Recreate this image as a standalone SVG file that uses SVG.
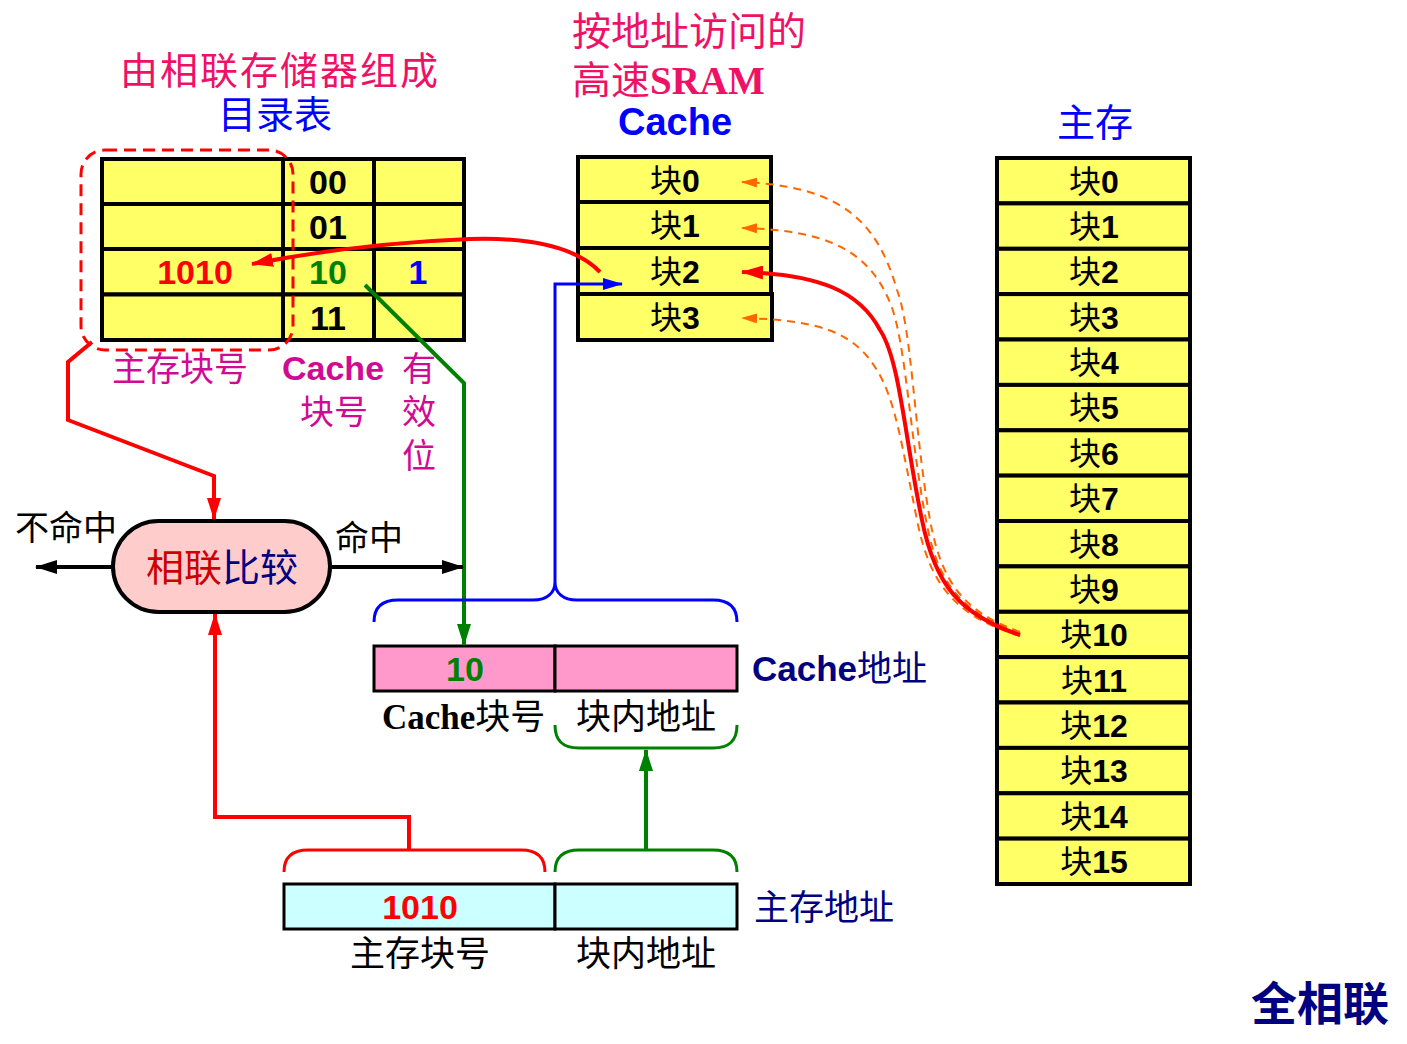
<svg xmlns="http://www.w3.org/2000/svg" width="1407" height="1044" viewBox="0 0 1407 1044">
<defs>
<style>
.cjk{font-family:"Noto Sans CJK SC","Noto Sans CJK TC",sans-serif;}
.b{font-family:"Liberation Sans",Arial,sans-serif;font-weight:bold;}
.sb{font-family:"Liberation Serif","Times New Roman",serif;font-weight:bold;}
.cell{fill:#FFFF66;stroke:#000;stroke-width:4;}
.blk{font-size:32px;text-anchor:middle;fill:#000;}
.dig{font-size:34px;text-anchor:middle;}
.lbl{fill:#D10A94;font-size:34px;}
.navy{fill:#000080;}
.ln{fill:none;stroke-width:4;}
.brace{fill:none;stroke-width:3;}
.odash{fill:none;stroke:#FF6600;stroke-width:2;stroke-dasharray:8 6;}
</style>
<marker id="aR" viewBox="0 0 22 14" refX="21" refY="7" markerWidth="22" markerHeight="14" orient="auto" markerUnits="userSpaceOnUse"><path d="M0,0 L22,7 L0,14 z" fill="#FF0000"/></marker>
<marker id="aK" viewBox="0 0 22 14" refX="21" refY="7" markerWidth="22" markerHeight="14" orient="auto" markerUnits="userSpaceOnUse"><path d="M0,0 L22,7 L0,14 z" fill="#000"/></marker>
<marker id="aG" viewBox="0 0 22 14" refX="21" refY="7" markerWidth="22" markerHeight="14" orient="auto" markerUnits="userSpaceOnUse"><path d="M0,0 L22,7 L0,14 z" fill="#008000"/></marker>
<marker id="aB" viewBox="0 0 20 12" refX="19" refY="6" markerWidth="20" markerHeight="12" orient="auto" markerUnits="userSpaceOnUse"><path d="M0,0 L20,6 L0,12 z" fill="#0000FF"/></marker>
<marker id="aO" viewBox="0 0 16 10" refX="15" refY="5" markerWidth="16" markerHeight="10" orient="auto" markerUnits="userSpaceOnUse"><path d="M0,0 L16,5 L0,10 z" fill="#FF6600"/></marker>
</defs>
<rect width="1407" height="1044" fill="#FFFFFF"/>

<g id="titles">
<text class="cjk" x="120" y="84" font-size="38" letter-spacing="2" fill="#EE1166">由相联存储器组成</text>
<text class="cjk" x="218" y="128" font-size="38" fill="#0000FF">目录表</text>
<text class="cjk" x="572" y="45" font-size="39" fill="#EE1166">按地址访问的</text>
<text x="572" y="94" font-size="39" fill="#EE1166"><tspan class="cjk">高速</tspan><tspan class="sb">SRAM</tspan></text>
<text class="b" x="675" y="135" font-size="38" fill="#0000FF" text-anchor="middle">Cache</text>
<text class="cjk" x="1095" y="136" font-size="38" fill="#0000FF" text-anchor="middle">主存</text>
<text class="cjk navy" x="1320" y="1020" font-size="46" text-anchor="middle" font-weight="bold">全相联</text>
</g>

<g id="directory">
<rect class="cell" x="102" y="159" width="181" height="45"/>
<rect class="cell" x="102" y="204" width="181" height="45"/>
<rect class="cell" x="102" y="249" width="181" height="45.5"/>
<rect class="cell" x="102" y="294.5" width="181" height="45.5"/>
<rect class="cell" x="283" y="159" width="91" height="45"/>
<rect class="cell" x="283" y="204" width="91" height="45"/>
<rect class="cell" x="283" y="249" width="91" height="45.5"/>
<rect class="cell" x="283" y="294.5" width="91" height="45.5"/>
<rect class="cell" x="374" y="159" width="90" height="45"/>
<rect class="cell" x="374" y="204" width="90" height="45"/>
<rect class="cell" x="374" y="249" width="90" height="45.5"/>
<rect class="cell" x="374" y="294.5" width="90" height="45.5"/>
<text class="b dig" x="328" y="194" fill="#000">00</text>
<text class="b dig" x="328" y="239" fill="#000">01</text>
<text class="b dig" x="328" y="284" fill="#008000">10</text>
<text class="b dig" x="328" y="330" fill="#000">11</text>
<text class="b dig" x="195" y="284" fill="#FF0000">1010</text>
<text class="b dig" x="418" y="284" fill="#0000FF">1</text>
</g>

<g id="dir-highlight">
<rect x="81" y="150" width="212" height="200" rx="24" fill="none" stroke="#FF0000" stroke-width="3" stroke-dasharray="12 7"/>
</g>

<g id="dir-labels">
<text class="cjk lbl" x="112" y="381">主存块号</text>
<text class="b lbl" x="282" y="380">Cache</text>
<text class="cjk lbl" x="402" y="381">有</text>
<text class="cjk lbl" x="300" y="424">块号</text>
<text class="cjk lbl" x="402" y="424">效</text>
<text class="cjk lbl" x="402" y="468">位</text>
</g>

<g id="cache">
<rect class="cell" x="578" y="157" width="193" height="45"/>
<rect class="cell" x="578" y="202" width="193" height="46"/>
<rect class="cell" x="578" y="248" width="193" height="46"/>
<rect class="cell" x="578" y="294" width="194" height="46"/>
<text class="blk" x="675" y="192"><tspan class="cjk">块</tspan><tspan class="b">0</tspan></text>
<text class="blk" x="675" y="237"><tspan class="cjk">块</tspan><tspan class="b">1</tspan></text>
<text class="blk" x="675" y="283"><tspan class="cjk">块</tspan><tspan class="b">2</tspan></text>
<text class="blk" x="675" y="329"><tspan class="cjk">块</tspan><tspan class="b">3</tspan></text>
</g>

<g id="main-memory">
<rect class="cell" x="997" y="158" width="193" height="45.4"/>
<rect class="cell" x="997" y="203.4" width="193" height="45.4"/>
<rect class="cell" x="997" y="248.8" width="193" height="45.4"/>
<rect class="cell" x="997" y="294.1" width="193" height="45.4"/>
<rect class="cell" x="997" y="339.5" width="193" height="45.4"/>
<rect class="cell" x="997" y="384.9" width="193" height="45.4"/>
<rect class="cell" x="997" y="430.3" width="193" height="45.4"/>
<rect class="cell" x="997" y="475.6" width="193" height="45.4"/>
<rect class="cell" x="997" y="521" width="193" height="45.4"/>
<rect class="cell" x="997" y="566.4" width="193" height="45.4"/>
<rect class="cell" x="997" y="611.8" width="193" height="45.4"/>
<rect class="cell" x="997" y="657.1" width="193" height="45.4"/>
<rect class="cell" x="997" y="702.5" width="193" height="45.4"/>
<rect class="cell" x="997" y="747.9" width="193" height="45.4"/>
<rect class="cell" x="997" y="793.3" width="193" height="45.4"/>
<rect class="cell" x="997" y="838.6" width="193" height="45.4"/>
<text class="blk" x="1094" y="193"><tspan class="cjk">块</tspan><tspan class="b">0</tspan></text>
<text class="blk" x="1094" y="238"><tspan class="cjk">块</tspan><tspan class="b">1</tspan></text>
<text class="blk" x="1094" y="283"><tspan class="cjk">块</tspan><tspan class="b">2</tspan></text>
<text class="blk" x="1094" y="329"><tspan class="cjk">块</tspan><tspan class="b">3</tspan></text>
<text class="blk" x="1094" y="374"><tspan class="cjk">块</tspan><tspan class="b">4</tspan></text>
<text class="blk" x="1094" y="419"><tspan class="cjk">块</tspan><tspan class="b">5</tspan></text>
<text class="blk" x="1094" y="465"><tspan class="cjk">块</tspan><tspan class="b">6</tspan></text>
<text class="blk" x="1094" y="510"><tspan class="cjk">块</tspan><tspan class="b">7</tspan></text>
<text class="blk" x="1094" y="556"><tspan class="cjk">块</tspan><tspan class="b">8</tspan></text>
<text class="blk" x="1094" y="601"><tspan class="cjk">块</tspan><tspan class="b">9</tspan></text>
<text class="blk" x="1094" y="646" fill="#0000FF"><tspan class="cjk">块</tspan><tspan class="b">10</tspan></text>
<text class="blk" x="1094" y="692"><tspan class="cjk">块</tspan><tspan class="b">11</tspan></text>
<text class="blk" x="1094" y="737"><tspan class="cjk">块</tspan><tspan class="b">12</tspan></text>
<text class="blk" x="1094" y="782"><tspan class="cjk">块</tspan><tspan class="b">13</tspan></text>
<text class="blk" x="1094" y="828"><tspan class="cjk">块</tspan><tspan class="b">14</tspan></text>
<text class="blk" x="1094" y="873"><tspan class="cjk">块</tspan><tspan class="b">15</tspan></text>
</g>

<g id="comparator">
<rect x="113" y="521" width="217" height="91" rx="45.5" fill="#FFCCCC" stroke="#000" stroke-width="4"/>
<text class="cjk" x="222" y="581" font-size="38" text-anchor="middle"><tspan fill="#CC0000">相联</tspan><tspan fill="#000080">比较</tspan></text>
<text class="cjk" x="15" y="540" font-size="34" fill="#000">不命中</text>
<text class="cjk" x="335" y="550" font-size="34" fill="#000">命中</text>
</g>

<g id="cache-address">
<rect x="374" y="646" width="181" height="45" fill="#FF99CC" stroke="#000" stroke-width="3"/>
<rect x="555" y="646" width="182" height="45" fill="#FF99CC" stroke="#000" stroke-width="3"/>
<text class="b" x="465" y="681" font-size="34" fill="#008000" text-anchor="middle">10</text>
<text x="752" y="681" font-size="35" class="navy"><tspan class="b">Cache</tspan><tspan class="cjk">地址</tspan></text>
<text x="382" y="729" font-size="35" fill="#000"><tspan class="sb">Cache</tspan><tspan class="cjk">块号</tspan></text>
<text class="cjk" x="576" y="729" font-size="35" fill="#000">块内地址</text>
</g>

<g id="main-address">
<rect x="284" y="884" width="271" height="45" fill="#CCFFFF" stroke="#000" stroke-width="3"/>
<rect x="555" y="884" width="182" height="45" fill="#CCFFFF" stroke="#000" stroke-width="3"/>
<text class="b" x="420" y="919" font-size="34" fill="#FF0000" text-anchor="middle">1010</text>
<text class="cjk navy" x="754" y="920" font-size="35">主存地址</text>
<text class="cjk" x="350" y="966" font-size="35" fill="#000">主存块号</text>
<text class="cjk" x="576" y="966" font-size="35" fill="#000">块内地址</text>
</g>

<g id="connectors">
<path class="odash" d="M1020,632 C965,612 942,585 930,520 C914,430 912,330 897,290 C877,220 840,186 742,182" marker-end="url(#aO)"/>
<path class="odash" d="M1020,633 C962,613 938,585 926,520 C909,430 906,345 891,305 C870,252 830,230 742,228" marker-end="url(#aO)"/>
<path class="odash" d="M1020,636 C955,616 930,585 917,520 C902,445 895,400 878,372 C855,332 820,320 742,318" marker-end="url(#aO)"/>
<path class="ln" stroke="#FF0000" d="M1020,635 C960,615 935,585 922,520 C905,440 900,360 880,330 C860,292 820,274 742,272" marker-end="url(#aR)"/>
<path class="ln" stroke="#FF0000" d="M600,272 Q565,236 470,239 Q360,243 252,264" marker-end="url(#aR)"/>
<polyline class="ln" stroke="#FF0000" points="92,342 68,362 68,420 214,476 214,519" marker-end="url(#aR)"/>
<polyline class="ln" stroke="#008000" points="365,285 464,383 464,645" marker-end="url(#aG)"/>
<line class="ln" stroke="#000" x1="113" y1="567" x2="36" y2="567" marker-end="url(#aK)"/>
<line class="ln" stroke="#000" x1="330" y1="567" x2="463" y2="567" marker-end="url(#aK)"/>
<path class="brace" stroke="#0000FF" d="M374,622 C374,607 382,600 398,600 L533,600 C547,600 555,593 555,582 C555,593 563,600 577,600 L713,600 C729,600 737,607 737,622"/>
<polyline fill="none" stroke="#0000FF" stroke-width="3" points="555,582 555,284 622,284" marker-end="url(#aB)"/>
<path class="brace" stroke="#008000" d="M555,725 C555,741 563,748 579,748 L713,748 C729,748 737,741 737,725"/>
<path class="brace" stroke="#008000" d="M555,872 C555,857 563,850 579,850 L713,850 C729,850 737,857 737,872"/>
<line class="ln" stroke="#008000" x1="646" y1="850" x2="646" y2="750" marker-end="url(#aG)"/>
<path class="brace" stroke="#FF0000" d="M284,872 C284,857 292,850 308,850 L521,850 C537,850 545,857 545,872"/>
<polyline class="ln" stroke="#FF0000" points="409,850 409,817 215,817 215,614" marker-end="url(#aR)"/>
</g>
</svg>
